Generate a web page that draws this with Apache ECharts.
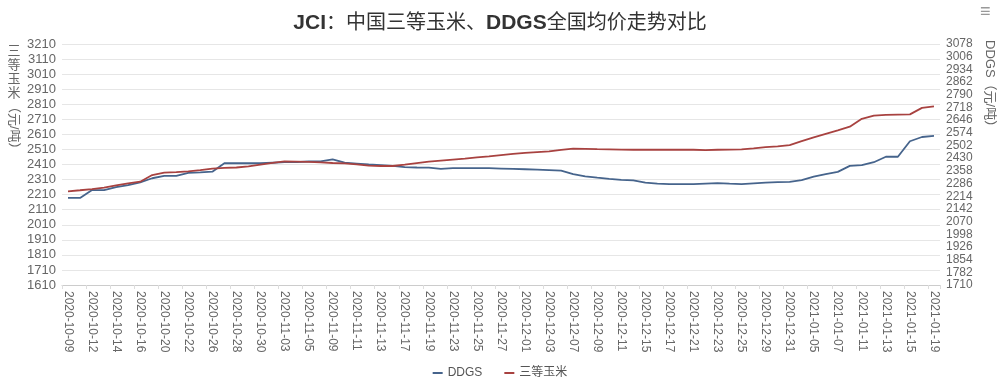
<!DOCTYPE html>
<html><head><meta charset="utf-8">
<script src="https://cdn.jsdelivr.net/npm/echarts@6/dist/echarts.min.js"></script>
<style>html,body{margin:0;padding:0;background:#fff}#c{width:1000px;height:384px}</style>
</head><body><div id="c"></div>
<script>
const categories = [
 '2020-10-09','2020-10-10','2020-10-12','2020-10-13','2020-10-14','2020-10-15','2020-10-16','2020-10-19','2020-10-20','2020-10-21',
 '2020-10-22','2020-10-23','2020-10-26','2020-10-27','2020-10-28','2020-10-29','2020-10-30','2020-11-02','2020-11-03','2020-11-04',
 '2020-11-05','2020-11-06','2020-11-09','2020-11-10','2020-11-11','2020-11-12','2020-11-13','2020-11-16','2020-11-17','2020-11-18',
 '2020-11-19','2020-11-20','2020-11-23','2020-11-24','2020-11-25','2020-11-26','2020-11-27','2020-11-30','2020-12-01','2020-12-02',
 '2020-12-03','2020-12-04','2020-12-07','2020-12-08','2020-12-09','2020-12-10','2020-12-11','2020-12-14','2020-12-15','2020-12-16',
 '2020-12-17','2020-12-18','2020-12-21','2020-12-22','2020-12-23','2020-12-24','2020-12-25','2020-12-28','2020-12-29','2020-12-30',
 '2020-12-31','2021-01-04','2021-01-05','2021-01-06','2021-01-07','2021-01-08','2021-01-11','2021-01-12','2021-01-13','2021-01-14',
 '2021-01-15','2021-01-18','2021-01-19'
];
const ddgs = [
 2204,2204,2249,2249,2266,2277,2293,2316,2329,2329,
 2347,2349,2353,2401,2401,2401,2401,2404,2407,2408,
 2411,2412,2423,2404,2399,2394,2390,2386,2379,2377,
 2376,2369,2373,2373,2373,2373,2371,2369,2367,2365,
 2362,2359,2340,2327,2319,2312,2307,2304,2291,2285,
 2283,2283,2283,2286,2288,2285,2283,2287,2291,2294,
 2295,2305,2325,2340,2352,2386,2390,2407,2438,2438,
 2526,2550,2556
];
const corn = [
 2232,2239,2247,2257,2271,2284,2296,2340,2356,2360,
 2365,2372,2382,2387,2390,2397,2409,2421,2431,2429,
 2427,2424,2420,2417,2411,2403,2400,2400,2409,2419,
 2429,2436,2443,2449,2457,2464,2472,2480,2487,2492,
 2497,2507,2515,2514,2512,2511,2509,2508,2508,2508,
 2508,2508,2508,2506,2508,2509,2511,2517,2525,2531,
 2539,2565,2590,2614,2637,2661,2713,2735,2739,2741,
 2743,2786,2796
];
const leftAxisRange = [1610, 3210, 100];
const rightAxisRange = [1710, 3078, 72];
const seriesNames = ['DDGS', '三等玉米'];
const titleText = '{b|JCI}：中国三等玉米、{b|DDGS}全国均价走势对比';
const leftName = ['三', '等', '玉', '米', '（元/吨）'];
const rightName = 'DDGS（元/吨）';

const FONT = '"Liberation Sans", Arial, "Noto Sans CJK SC", sans-serif';
const chart = echarts.init(document.getElementById('c'), null, {renderer: 'canvas'});
const plain = v => String(v);
const leftNameGraphics = leftName.slice(0, 4).map((ch, k) => ({
  type: 'text', x: 14, y: 45 + k * 14,
  style: {text: ch, font: '13px ' + FONT, fill: '#666', align: 'center', verticalAlign: 'top'}
}));
chart.setOption({
  animation: false,
  backgroundColor: '#fff',
  textStyle: {fontFamily: FONT},
  title: {
    text: titleText, left: 'center', top: 8,
    textStyle: {fontFamily: FONT, fontSize: 20, fontWeight: 'normal', color: '#333',
      rich: {b: {fontFamily: FONT, fontSize: 21, fontWeight: 'bold', color: '#333'}}}
  },
  legend: {
    bottom: 0, left: 'center', icon: 'rect', itemWidth: 10, itemHeight: 2, itemGap: 22,
    textStyle: {fontFamily: FONT, fontSize: 12, color: '#555'},
    data: seriesNames
  },
  grid: {left: 62, right: 60, top: 44, bottom: 99, containLabel: false},
  xAxis: {
    type: 'category', data: categories, boundaryGap: true,
    axisLine: {lineStyle: {color: '#ccc'}},
    axisTick: {show: true, interval: 1, length: 4, lineStyle: {color: '#ddd'}},
    axisLabel: {interval: 1, rotate: -90, margin: 6, fontSize: 12, color: '#666', fontFamily: FONT}
  },
  yAxis: [
    {type: 'value', min: leftAxisRange[0], max: leftAxisRange[1], interval: leftAxisRange[2],
     axisLine: {show: false}, axisTick: {show: false},
     splitLine: {lineStyle: {color: '#e6e6e6'}},
     axisLabel: {fontSize: 13, color: '#666', margin: 6, fontFamily: FONT, formatter: plain,
       showMinLabel: true, showMaxLabel: true, hideOverlap: false}},
    {type: 'value', min: rightAxisRange[0], max: rightAxisRange[1], interval: rightAxisRange[2],
     position: 'right',
     axisLine: {show: false}, axisTick: {show: false}, splitLine: {show: false},
     axisLabel: {fontSize: 12, lineHeight: 12, color: '#666', margin: 6, fontFamily: FONT, formatter: plain,
       showMinLabel: true, showMaxLabel: true, hideOverlap: false}}
  ],
  series: [
    {name: seriesNames[0], type: 'line', yAxisIndex: 1, data: ddgs, symbol: 'none',
     color: '#46648c', lineStyle: {width: 1.8, color: '#46648c'}},
    {name: seriesNames[1], type: 'line', yAxisIndex: 0, data: corn, symbol: 'none',
     color: '#a84240', lineStyle: {width: 1.8, color: '#a84240'}}
  ],
  graphic: leftNameGraphics.concat([
    {type: 'text', x: 14, y: 100, rotation: -Math.PI / 2, style: {text: leftName[4], font: '13px ' + FONT, fill: '#666', align: 'left', verticalAlign: 'middle'}},
    {type: 'text', x: 990, y: 40, rotation: -Math.PI / 2, style: {text: rightName, font: '13px ' + FONT, fill: '#666', align: 'left', verticalAlign: 'middle'}},
    {type: 'text', x: 980, y: 3, style: {text: '≡', font: '18px ' + FONT, fill: '#999'}}
  ])
});
</script></body></html>
